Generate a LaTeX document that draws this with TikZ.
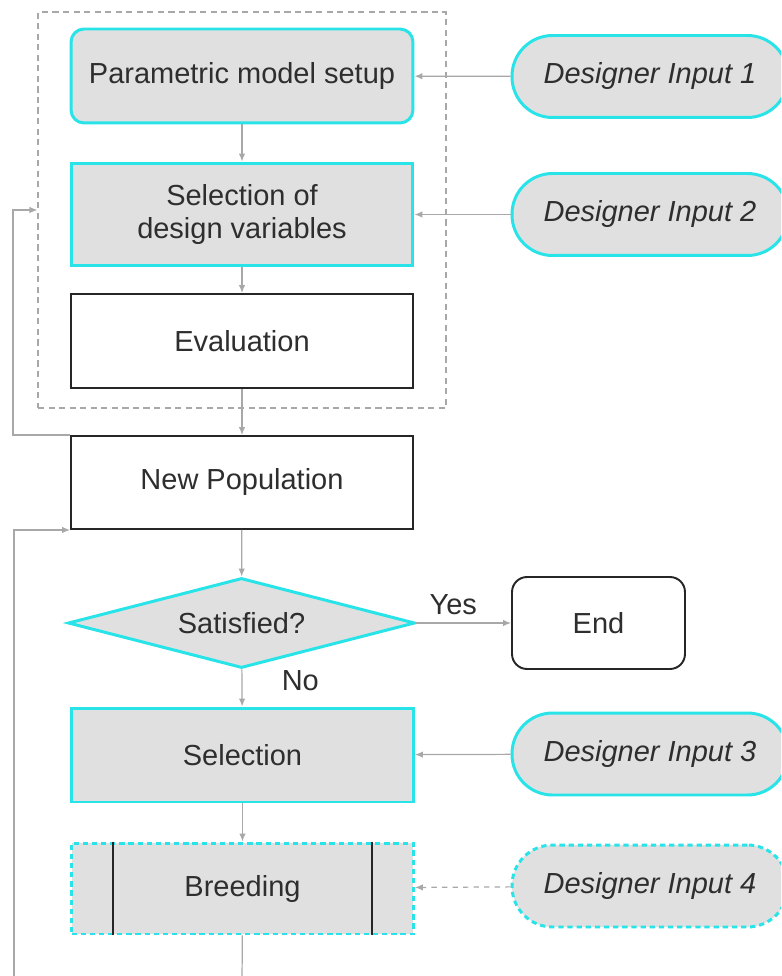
\documentclass[tikz,border=0pt]{standalone}
\usepackage{fontspec}
\setmainfont{Liberation Sans}
\usetikzlibrary{shapes.geometric,arrows.meta,positioning}
\definecolor{boxcyan}{RGB}{40,228,232}
\definecolor{boxgray}{RGB}{224,224,224}
\definecolor{linegray}{RGB}{168,168,168}

\begin{document}
\begin{tikzpicture}
[
x=0.02cm, y=-0.02cm,
every node/.style={font=\fontsize{16.5}{19}\selectfont, text=black!82},
stepnode/.style={rectangle, draw=black!85, line width=1.1pt, fill=white, align=center, minimum width=6.84cm, minimum height=1.88cm, inner sep=0},
cyannode/.style={stepnode, draw=boxcyan, line width=1.7pt, fill=boxgray},
inputnode/.style={rectangle, rounded corners=0.81cm, draw=boxcyan, line width=1.7pt, fill=boxgray, minimum width=5.52cm, minimum height=1.64cm, inner sep=0, font=\fontsize{16.5}{19}\selectfont\itshape},
choicenode/.style={diamond, aspect=3.86, draw=boxcyan, line width=1.7pt, fill=boxgray, minimum width=6.94cm, minimum height=1.8cm, inner sep=0},
dashrec/.style={rectangle, draw=linegray, dash pattern=on 3.5pt off 2.5pt, line width=0.7pt, minimum width=8.16cm, minimum height=7.92cm, inner sep=0},
flow/.style={draw=linegray, line width=0.7pt, -{Latex[length=1.6mm,width=1.3mm]}},
]
\useasboundingbox (0,0) rectangle (781,976);
\clip (0,0) rectangle (781,976);
%draw the loop that sets up the model
\node[dashrec] (loop) at (242,210) {};
\node[cyannode, rounded corners=0.26cm] (setup) at (242,76) {Parametric model setup};
\node[cyannode, minimum height=2.06cm] (selvar) at (242,214.5) {Selection of\\design variables};
\node[stepnode] (eval) at (242,341) {Evaluation};
%draw the genetic loop
\node[stepnode, minimum height=1.86cm] (newpop) at (242,482.5) {New Population};
\node[choicenode] (satis) at (241.5,623) {Satisfied?};
\node[stepnode, rounded corners=0.3cm, minimum width=3.46cm, minimum height=1.84cm] (end) at (598.5,623) {End};
\node[cyannode] (sel) at (242.5,755) {Selection};
\node[cyannode, dash pattern=on 3pt off 2.2pt, minimum height=1.82cm] (breed) at (242.5,888.5) {Breeding};
\draw[black!85, line width=1.2pt] ([xshift=0.86cm]breed.north west) -- ([xshift=0.86cm]breed.south west);
\draw[black!85, line width=1.2pt] ([xshift=-0.86cm]breed.north east) -- ([xshift=-0.86cm]breed.south east);
%draw the designer inputs
\node[inputnode] (in1) at (650,76.5) {Designer Input 1};
\node[inputnode] (in2) at (650,214.5) {Designer Input 2};
\node[inputnode] (in3) at (650,754) {Designer Input 3};
\node[inputnode, dash pattern=on 3pt off 2.2pt] (in4) at (650,886) {Designer Input 4};
\coordinate (exit) at (242,990);
\coordinate (back) at (14,990);
%draw the arrows
\draw[flow] (setup) -- (selvar);
\draw[flow] (selvar) -- (eval);
\draw[flow] (eval) -- (newpop);
\draw[flow] (newpop) -- (satis);
\draw[flow] (satis) -- node (yes) [above=1pt, xshift=-6pt] {Yes} (end);
\draw[flow] (satis) -- node (no) [right=19pt, pos=0.3] {No} (sel);
\draw[flow] (sel) -- (breed);
\draw[draw=linegray, line width=0.7pt] (breed) -- (exit);
\draw[flow] (back) |- (newpop.south west);
\draw[flow] (newpop.north west) -- ++(-57,0) |- (loop.west);
\draw[flow] (in1) -- (setup);
\draw[flow] (in2) -- (selvar);
\draw[flow] (in3) -- (sel);
\draw[flow, dashed] (in4) -- (breed);
\end{tikzpicture}
\end{document}
